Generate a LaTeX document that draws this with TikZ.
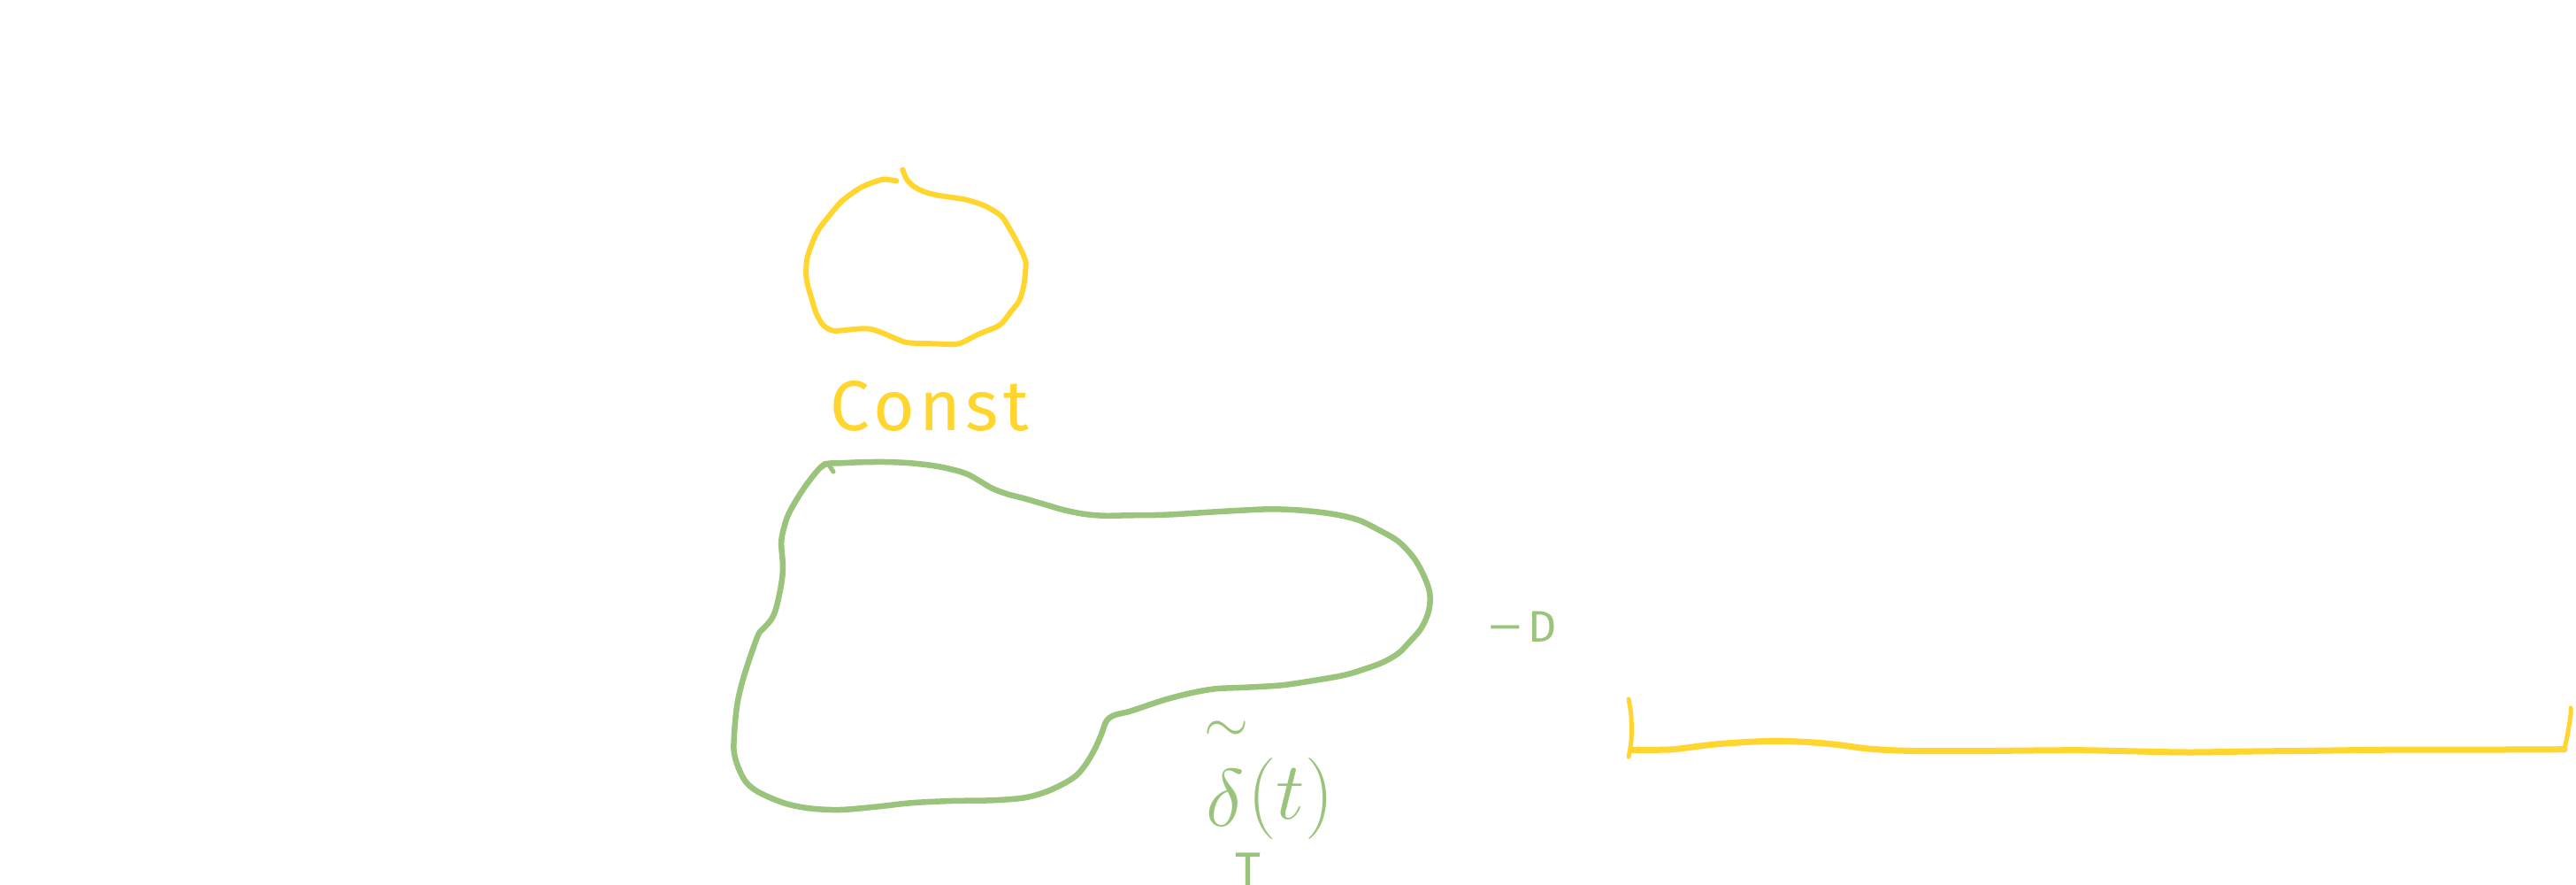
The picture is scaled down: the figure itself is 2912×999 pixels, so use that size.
\RequirePackage{fix-cm}
\documentclass[tikz,border=0pt]{standalone}
\usepackage{fontspec}
\setmainfont{Fira Sans}
\definecolor{skyellow}{HTML}{FFD52E}
\definecolor{skgreen}{HTML}{9AC37B}
\tikzset{
  yel/.style={draw=skyellow, line width=6pt, line cap=round, line join=round},
  grn/.style={draw=skgreen, line width=6.5pt, line cap=round, line join=round},
  lbl/.style={inner sep=0pt, anchor=base west},
}
\begin{document}
\begin{tikzpicture}[x=1pt,y=-1pt]
\fill[white] (0,0) rectangle (2912,999);
\useasboundingbox (0,0) rectangle (2912,999);

% yellow blob
\draw[yel] plot[smooth, tension=0.55] coordinates {
(1013.3,204.3) (1004,203) (996.4,203) (983.7,207.3) (973.5,211.7) (963.3,218.3)
(950.5,228.3) (937.8,243.3) (925,260) (917.3,276.7) (912.2,293.3) (911.2,310)
(913.3,323.3) (917.3,336.7) (922.4,353.3) (930,366.7) (940.3,373.3) (953,373.3)
(968.4,371.7) (983.7,371.7) (999,376.7) (1014.3,383.3) (1027,387.3) (1055.1,388.3)
(1078,389) (1088.3,386.7) (1106.1,377.7) (1126.5,369.3) (1134.2,363.3) (1141.8,353.3)
(1152,340) (1157.1,323.3) (1159.7,300) (1158.7,293.3) (1154.6,283.3) (1146.9,268.3)
(1139.3,255) (1134.2,246.7) (1126.5,240) (1111.2,231.7) (1093.4,226) (1078,223.3)
(1060.2,220.7) (1044.9,216.7) (1032.1,210) (1024.5,201.7) (1020.4,191.7)};

\node[lbl, text=skyellow, font=\fontsize{80}{80}\selectfont\addfontfeatures{LetterSpace=7}] (const) at (938,486) {Const};

% green blob
\draw[grn] plot[smooth, tension=0.55] coordinates {
(926.3,529.3) (934.9,524) (949.2,523.3) (972.2,522.3) (1000.9,522) (1029.6,523.3)
(1058.3,526.7) (1081.3,531.7) (1095.6,536.7) (1107.1,543.3) (1121.4,551.7) (1138.7,558.3)
(1155.9,562.7) (1178.8,569.3) (1201.8,576) (1224.8,580.7) (1247.7,582.7) (1276.4,582.3)
(1316.6,581.7) (1362.5,579) (1402.7,576.7) (1437.1,575.3) (1471.6,576.7) (1506,580.7)
(1534.7,587.3) (1557.7,598.3) (1580.6,611.7) (1597.9,630) (1609.3,650) (1616.2,670)
(1615.1,690) (1606.5,710) (1592.1,726.7) (1580.6,738.3) (1563.4,748.3) (1540.5,756.7)
(1517.5,763.3) (1483,769.3) (1448.6,774.3) (1408.4,776.7) (1374,778.3) (1345.3,783.3)
(1316.6,790.7) (1293.6,798.3) (1276.4,804) (1259.2,808.3) (1250.6,815) (1244.9,830)
(1237.4,846.7) (1227.6,863.3) (1216.2,876.7) (1198.9,887.3) (1178.8,896) (1155.9,901.7)
(1121.4,904.3) (1075.5,905) (1029.6,907.3) (989.4,911.7) (949.2,915) (914.8,913.3)
(886.1,907.3) (857.4,895) (843,883.3) (834.4,866.7) (829.8,850) (829.8,833.3)
(831.6,810) (834.4,790) (840.2,766.7) (848.8,740) (857.4,716.7) (863.1,710)
(871.8,700) (877.5,686.7) (883.2,660) (885,640) (883.2,613.3) (886.1,596.7)
(891.8,580) (903.3,560) (914.8,543.3) (926.3,529.3) (933,524)};
\draw[grn, line width=5pt] (936,524) -- (942,533);

\node[lbl, text=skgreen, font=\fontsize{92}{92}\selectfont] (delta) at (1360,925) {${\stackrel{\raisebox{30pt}{$\scriptstyle\sim$}}{\delta}}(t)$};
\node[lbl, text=skgreen, font=\fontsize{56}{56}\selectfont] (tsub) at (1396,1002) {T};
\node[lbl, text=skgreen, font=\fontsize{50}{50}\selectfont] (minusd) at (1680,725) {\scalebox{1.7}[1]{−}\hspace{5pt}D};

% yellow bracket
\draw[yel, line width=5pt] plot[smooth, tension=0.5] coordinates {
(1841.1,790) (1844,810) (1844,836.7) (1841.1,855)};
\draw[yel, line width=7pt] plot[smooth, tension=0.5] coordinates {
(1844,847.3) (1870.9,847.3) (1892.2,846.7) (1913.4,844) (1941.8,840.7) (1977.3,838.3)
(2012.7,837.3) (2055.2,839.3) (2083.6,842.3) (2112,846) (2154.5,848.3) (2225.4,848.7)
(2296.3,848) (2353,847.7) (2402.7,848.7) (2473.6,850) (2544.5,849) (2615.4,848.3)
(2686.3,847.3) (2757.2,847) (2828,847) (2898.9,846.7)};
\draw[yel, line width=5pt] plot[smooth, tension=0.5] coordinates {
(2898.9,846.7) (2903,826.7) (2906,806.7) (2906,800)};
\end{tikzpicture}
\end{document}
